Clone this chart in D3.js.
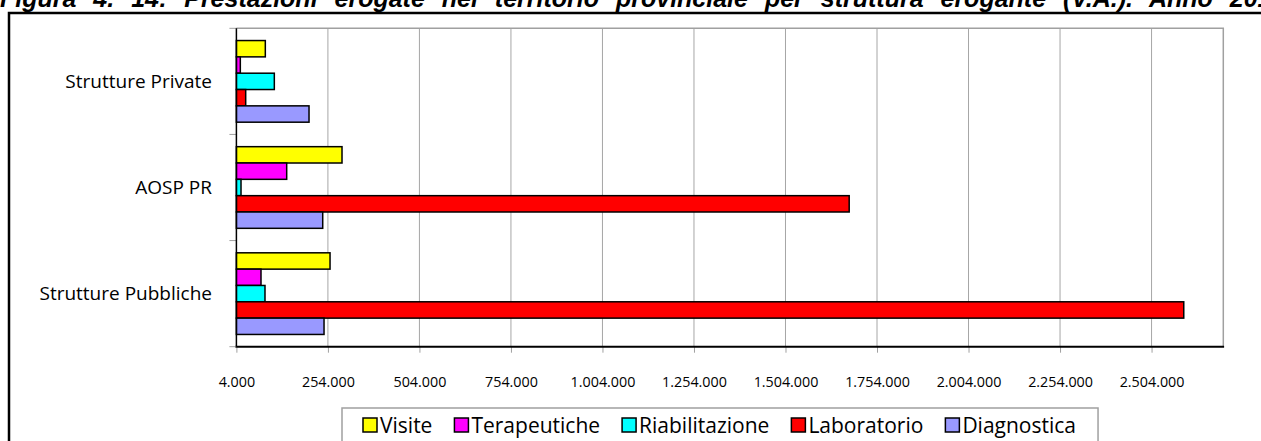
<!DOCTYPE html>
<html>
<head>
<meta charset="utf-8">
<script src="https://cdn.jsdelivr.net/npm/d3@7"></script>
<style>
  html, body { margin: 0; padding: 0; background: #fff; overflow: hidden; }
  svg { display: block; }
</style>
</head>
<body>
<svg id="chart" width="1261" height="441"></svg>
<script>
const categories = ["Strutture Private", "AOSP PR", "Strutture Pubbliche"];
const seriesNames = ["Visite", "Terapeutiche", "Riabilitazione", "Laboratorio", "Diagnostica"];
const seriesColors = ["#FFFF00", "#FF00FF", "#00FFFF", "#FF0000", "#9999FF"];

const visite = [83000, 292500, 259800];
const terapeutiche = [14700, 141400, 71200];
const riabilitazione = [107600, 16600, 82100];
const laboratorio = [29400, 1678000, 2592000];
const diagnostica = [202400, 239800, 243400];

const xTicks = [4000, 254000, 504000, 754000, 1004000, 1254000, 1504000, 1754000, 2004000, 2254000, 2504000];
const titleText = "Figura 4. 14: Prestazioni erogate nel territorio provinciale per struttura erogante (V.A.). Anno 2011";

const seriesValues = [visite, terapeutiche, riabilitazione, laboratorio, diagnostica];

const svg = d3.select("#chart");
const font = "'Open Sans', sans-serif";

const plot = { left: 236.4, right: 1223.3, top: 28.3, bottom: 346.7 };

const it = d3.formatLocale({ decimal: ",", thousands: ".", grouping: [3], currency: ["€", ""] });
const fmt = it.format(",d");

const x = d3.scaleLinear().domain([4000, 2700000]).range([plot.left, plot.right]);
const y = d3.scaleBand().domain(categories).range([plot.top, plot.bottom]).padding(0);
const ySeries = d3.scaleBand().domain(seriesNames).range([0, y.bandwidth()])
  .paddingInner(0).paddingOuter(0.75);

// title, cut off by the top of the page like in the source
svg.append("text")
  .attr("x", 0)
  .attr("y", 7)
  .style("font-family", "'Liberation Sans', Arial, sans-serif")
  .style("font-weight", "bold")
  .style("font-style", "italic")
  .style("font-size", "25px")
  .style("word-spacing", "10px")
  .text(titleText);

// outer frame
svg.append("path")
  .attr("d", "M9,441 V13 H1261")
  .attr("fill", "none")
  .attr("stroke", "#000")
  .attr("stroke-width", 2.5);

// gridlines
svg.append("g")
  .selectAll("line")
  .data(xTicks.slice(1))
  .enter()
  .append("line")
  .attr("x1", (d) => x(d))
  .attr("x2", (d) => x(d))
  .attr("y1", plot.top)
  .attr("y2", plot.bottom)
  .attr("stroke", "#a6a6a6")
  .attr("stroke-width", 1);

// plot border top/right
svg.append("path")
  .attr("d", `M${plot.left},${plot.top} H${plot.right} V${plot.bottom}`)
  .attr("fill", "none")
  .attr("stroke", "#a0a0a0")
  .attr("stroke-width", 1.5);

// bars
const rows = [];
categories.forEach((c, ci) => {
  seriesNames.forEach((s, si) => {
    rows.push({ cat: c, series: s, value: seriesValues[si][ci], color: seriesColors[si] });
  });
});

svg.append("g")
  .selectAll("rect")
  .data(rows)
  .enter()
  .append("rect")
  .attr("x", x(4000))
  .attr("y", (d) => y(d.cat) + ySeries(d.series))
  .attr("width", (d) => x(d.value) - x(4000))
  .attr("height", ySeries.bandwidth())
  .attr("fill", (d) => d.color)
  .attr("stroke", "#000")
  .attr("stroke-width", 1.5);

// x axis
const xAxis = svg.append("g")
  .attr("transform", `translate(0,${plot.bottom})`)
  .call(d3.axisBottom(x).tickValues(xTicks).tickFormat(fmt).tickSize(6).tickPadding(24));
xAxis.select(".domain").remove();
xAxis.selectAll(".tick line").attr("stroke", "#a0a0a0");
xAxis.selectAll(".tick text")
  .style("font-family", font)
  .style("font-size", "14.3px")
  .attr("fill", "#000");

svg.append("line")
  .attr("x1", plot.left - 1)
  .attr("x2", plot.right + 0.8)
  .attr("y1", plot.bottom)
  .attr("y2", plot.bottom)
  .attr("stroke", "#000")
  .attr("stroke-width", 2);

// y axis
const yTickPos = categories.map((c) => y(c)).concat([plot.bottom]);
svg.append("g")
  .selectAll("line")
  .data(yTickPos)
  .enter()
  .append("line")
  .attr("x1", plot.left - 7)
  .attr("x2", plot.left)
  .attr("y1", (d) => d)
  .attr("y2", (d) => d)
  .attr("stroke", "#a0a0a0")
  .attr("stroke-width", 1);

svg.append("line")
  .attr("x1", plot.left)
  .attr("x2", plot.left)
  .attr("y1", plot.top)
  .attr("y2", plot.bottom)
  .attr("stroke", "#000")
  .attr("stroke-width", 1.5);

svg.append("g")
  .selectAll("text")
  .data(categories)
  .enter()
  .append("text")
  .attr("x", 212)
  .attr("y", (d) => y(d) + y.bandwidth() / 2)
  .attr("dy", "0.35em")
  .attr("text-anchor", "end")
  .style("font-family", font)
  .style("font-size", "19px")
  .text((d) => d);

// legend
const legend = svg.append("g");
const legendBox = legend.append("rect")
  .attr("x", 342)
  .attr("y", 408)
  .attr("height", 50)
  .attr("fill", "#fff")
  .attr("stroke", "#a0a0a0")
  .attr("stroke-width", 1.5);

let cursor = 363;
const legendY = 425;
seriesNames.forEach((s, i) => {
  legend.append("rect")
    .attr("x", cursor)
    .attr("y", legendY - 7)
    .attr("width", 14)
    .attr("height", 14)
    .attr("fill", seriesColors[i])
    .attr("stroke", "#000")
    .attr("stroke-width", 1.5);
  const t = legend.append("text")
    .attr("x", cursor + 17)
    .attr("y", legendY)
    .attr("dy", "0.36em")
    .style("font-family", font)
    .style("font-size", "21px")
    .text(s);
  cursor += 17 + t.node().getComputedTextLength() + 22;
});
legendBox.attr("width", cursor - 342);
</script>
</body>
</html>
